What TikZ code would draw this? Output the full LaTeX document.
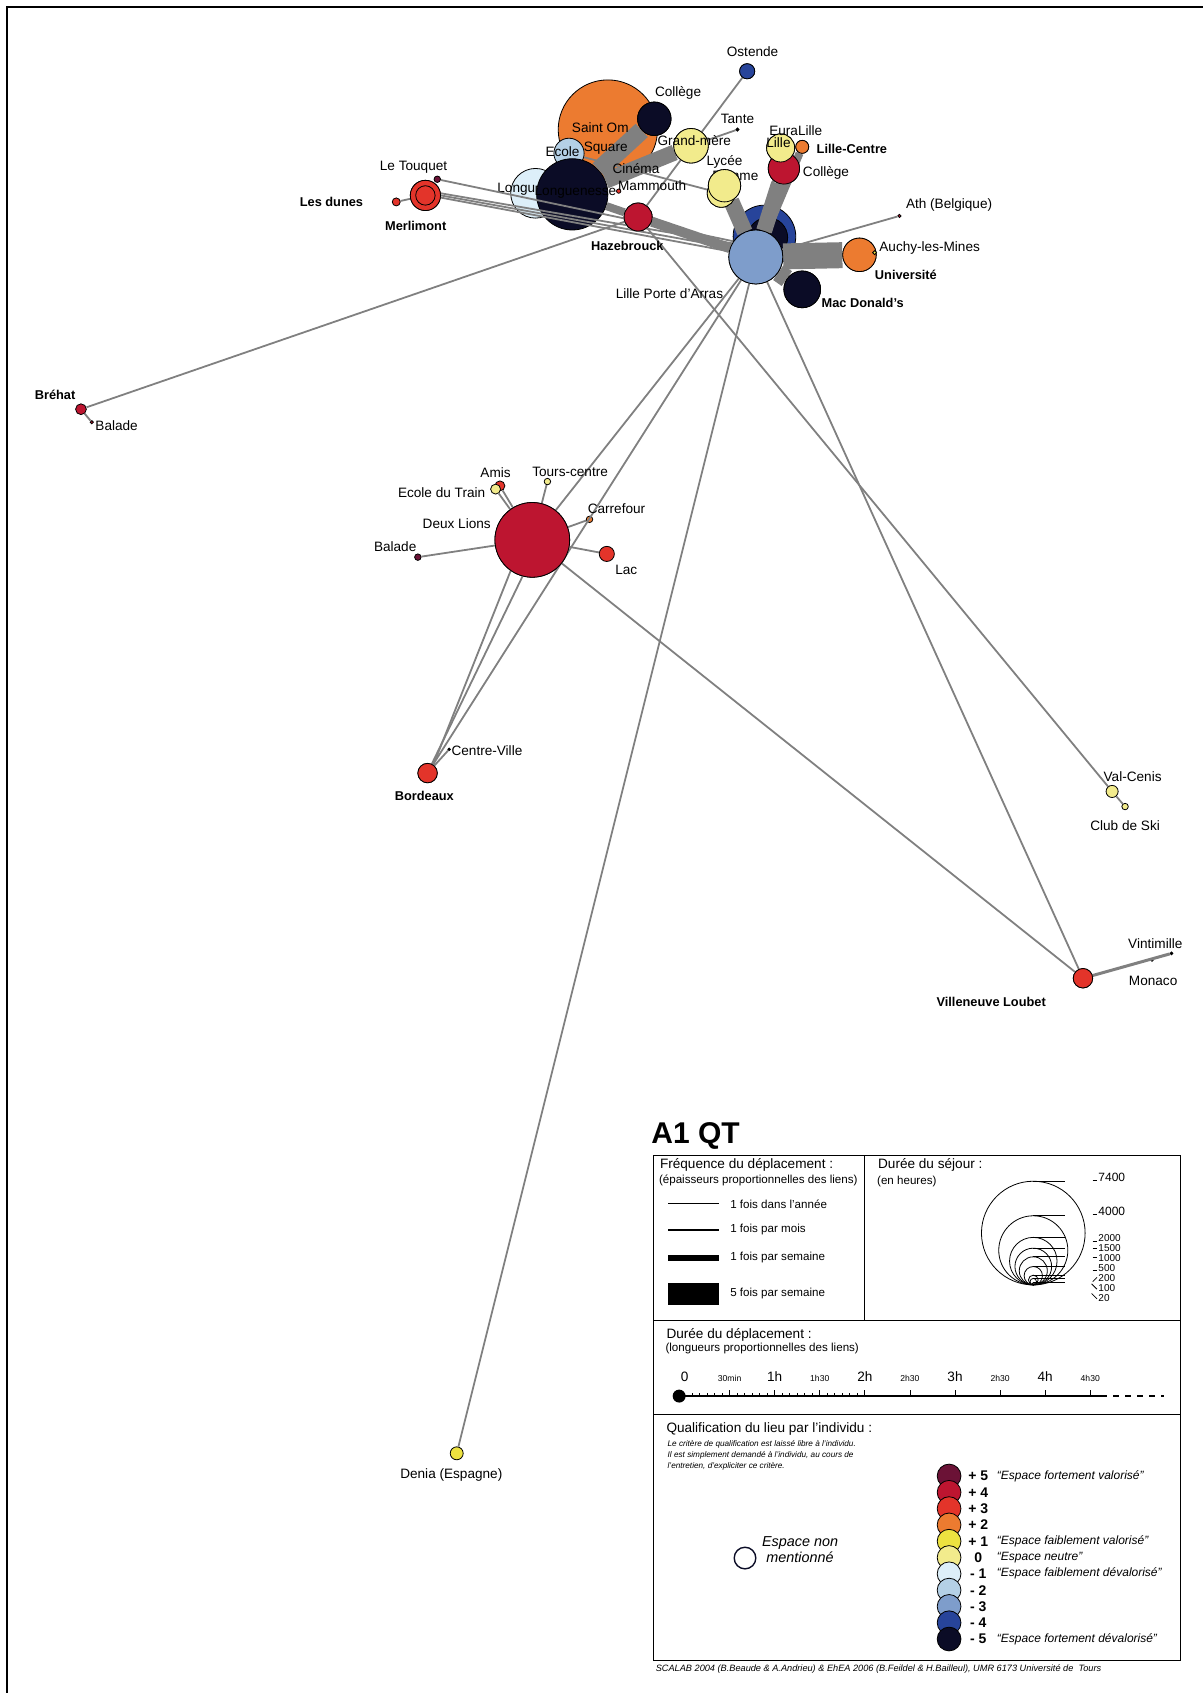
\documentclass[tikz,border=0pt]{standalone}
\usepackage{fontspec}
\setmainfont{Liberation Sans}
\definecolor{qp5}{HTML}{6B1236}
\definecolor{qp4}{HTML}{BD1530}
\definecolor{qp3}{HTML}{E3342A}
\definecolor{qp2}{HTML}{EC7B30}
\definecolor{qp1}{HTML}{EDE240}
\definecolor{qz}{HTML}{F2EB8C}
\definecolor{qm1}{HTML}{DDEFF9}
\definecolor{qm2}{HTML}{B4D0E6}
\definecolor{qm3}{HTML}{7E9DCB}
\definecolor{qm4}{HTML}{27449A}
\definecolor{qm5}{HTML}{0B0C26}
\definecolor{linkgray}{HTML}{808080}
\begin{document}
\begin{tikzpicture}[x=0.54pt, y=-0.54pt,
  spot/.style={circle, draw=black, line width=0.4pt, inner sep=0pt, minimum size=#1*1.08pt},
  link/.style={draw=linkgray, line width=0.9pt},
  band/.style={draw=linkgray, line width=#1},
  lbl/.style={font=\fontsize{6.8}{8}\selectfont, inner sep=0.5pt},
  blbl/.style={font=\fontsize{6.4}{8}\selectfont\bfseries, inner sep=0.5pt},
  leg/.style={font=\fontsize{5.8}{7}\selectfont, inner sep=0pt, anchor=west}]
\useasboundingbox (0,0) rectangle (1114,1568);
\draw[line width=1.2pt] (1114,6.5) -- (6.5,6.5) -- (6.5,1568);
% lieux du fond
\node[spot=46, fill=qp2] (stomer) at (563,120){};
\node[spot=14, fill=qm2] (ecole) at (527,142){};
\node[spot=23, fill=qm1] (longu) at (496,179){};
\node[lbl, anchor=east] (tlongu) at (497,175){Longu};
\node[spot=33, fill=qm5] (lgn) at (530,180){};
\node[spot=29, fill=qm4] (ring4) at (708,219){};
\node[spot=18.5, fill=qm5] (ring5) at (711,220){};
% liens
\node[spot=15.5, fill=qp2] (univ) at (796,236){};
\node[spot=25, fill=qm3] (hub) at (700,238){};
\node[spot=13, fill=qp4] (hazeb) at (591,201){};
\node[spot=15, fill=qz] (lycee) at (671,172){};
\node[spot=14.5, fill=qp4] (colred) at (726,156){};
\node[spot=6, fill=qp2] (lcentre) at (743,136){};
\node[spot=13, fill=qz] (lille) at (723,137){};
\node[spot=15.5, fill=qm5] (college) at (606,110){};
\node[spot=16, fill=qz] (grandm) at (640,135){};
\node[spot=17, fill=qm5] (macdo) at (743,268){};
\draw[band=9pt] (lgn) -- (college);
\draw[band=8pt] (lgn) -- (grandm);
\draw[band=4pt] (lgn) -- (hazeb);
\draw[band=5pt] (hazeb) -- (hub);
\draw[band=8pt] (lycee) -- (hub);
\draw[band=8pt] (colred) -- (hub);
\draw[band=4pt] (lcentre) -- (hub);
\draw[band=13pt] (hub) -- (univ);
\draw[band=9pt] (hub) -- (macdo);
\node[spot=7, fill=qm4] (ostende) at (692,66){};
\node[spot=1.5, fill=black] (tante) at (683,120){};
\node[spot=1.5, fill=qp4] (ath) at (833,200){};
\node[spot=13, fill=qz] (femme) at (668,179){};
\node[spot=14, fill=qp3] (merl) at (394,181){};
\node[spot=3, fill=qp5] (touquet) at (405,166){};
\node[spot=3.7, fill=qp3] (dunes) at (367,187){};
\node[spot=5, fill=qp4] (brehat) at (75,379){};
\node[spot=1.5, fill=qp4] (balade1) at (85,391){};
\node[spot=34.6, fill=qp4] (deux) at (493,500){};
\node[spot=4.6, fill=qp3] (amis) at (463,450){};
\node[spot=4.6, fill=qz] (etrain) at (459,453){};
\node[spot=3, fill=qz] (tours) at (507,446){};
\node[spot=3, fill=qp2] (carref) at (546,481){};
\node[spot=7, fill=qp3] (lac) at (562,513){};
\node[spot=3, fill=qp5] (balade2) at (387,516){};
\node[spot=9, fill=qp3] (bordeaux) at (396,716){};
\node[spot=1.2, fill=black] (cville) at (416,694){};
\node[spot=5.6, fill=qz] (valcenis) at (1030,733){};
\node[spot=3, fill=qz] (clubski) at (1042,747){};
\node[spot=9, fill=qp3] (villen) at (1003,906){};
\node[spot=1.3, fill=black] (monaco) at (1067,889){};
\node[spot=1.3, fill=black] (vinti) at (1085,883){};
\node[spot=6, fill=qp1] (denia) at (423,1346){};
\draw[link] (ostende) -- (hazeb);
\draw[link] (grandm) -- (tante);
\draw[link] (hub) -- (ath);
\draw[link] (lille) -- (hub);
\draw[link] (ecole) -- (femme);
\draw[link] (touquet) -- (hub.145);
\draw[link] (merl.8) -- (hub.150);
\draw[link] (merl.0) -- (hub.160);
\draw[link] (merl.-8) -- (hub.168);
\draw[link] (dunes) -- (merl);
\draw[link] (brehat) -- (hazeb);
\draw[link] (brehat) -- (balade1);
\draw[link] (hazeb) -- (valcenis);
\draw[link] (valcenis) -- (clubski);
\draw[link] (hub) -- (deux);
\draw[link] (hub) -- (bordeaux);
\draw[link] (hub) -- (denia);
\draw[link] (hub) -- (villen);
\draw[link] (deux) -- (villen);
\draw[link] (deux.255) -- (bordeaux.65);
\draw[link] (deux.235) -- (bordeaux.55);
\draw[link] (bordeaux) -- (cville);
\draw[link] (deux) -- (amis);
\draw[link] (deux) -- (etrain);
\draw[link] (deux) -- (tours);
\draw[link] (deux) -- (carref);
\draw[link] (deux) -- (lac);
\draw[link] (deux) -- (balade2);
\draw[link, line width=1.5pt] (villen) -- (vinti);
% lieux du dessus
\node[lbl] (tfemme) at (681,163){Femme};
\node[spot=13, fill=qz] at (femme){};
\node[spot=15, fill=qz] at (lycee){};
\node[spot=14.5, fill=qp4] at (colred){};
\node[spot=13, fill=qz] at (lille){};
\node[spot=6, fill=qp2] at (lcentre){};
\node[spot=15.5, fill=qm5] at (college){};
\node[spot=16, fill=qz] at (grandm){};
\node[spot=2, fill=qp3] (mammouth) at (573,177){};
\node[spot=13, fill=qp4] at (hazeb){};
\node[spot=25, fill=qm3] at (hub){};
\node[spot=15.5, fill=qp2] at (univ){};
\node[spot=1.8, fill=qp1] (univdot) at (810,234){};
\node[spot=17, fill=qm5] at (macdo){};
\node[spot=14, fill=qp3] at (merl){};
\node[spot=9, fill=qp3] (merlin) at (394,181){};
\node[spot=7, fill=qm4] at (ostende){};
\node[spot=34.6, fill=qp4] at (deux){};
\node[spot=9, fill=qp3] at (bordeaux){};
\node[spot=9, fill=qp3] at (villen){};
% noms des lieux
\node[lbl] (tostende) at (697,48){Ostende};
\node[lbl] (tcollege) at (628,86){Collège};
\node[lbl] (ttante) at (683,110){Tante};
\node[lbl] (teura) at (737,121){EuraLille};
\node[lbl] (tstomer) at (556,118){Saint Om};
\node[lbl] (tgrandm) at (643,130){Grand-mère};
\node[lbl] (tlille) at (721,132){Lille};
\node[blbl] (tlcentre) at (789,138){Lille-Centre};
\node[lbl] (tecole) at (521,140){Ecole};
\node[lbl] (tsquare) at (561,137){Square};
\node[lbl] (tlycee) at (671,150){Lycée};
\node[lbl] (ttouquet) at (383,155){Le Touquet};
\node[lbl] (tcolred) at (765,160){Collège};
\node[lbl] (tcinema) at (589,156){Cinéma};
\node[lbl] (tmammouth) at (604,172){Mammouth};
\node[lbl] (tlgn) at (533,178){Longuenesse};
\node[blbl] (tdunes) at (307,187){Les dunes};
\node[lbl] (tath) at (879,190){Ath (Belgique)};
\node[blbl] (tmerl) at (385,209){Merlimont};
\node[blbl] (thazeb) at (581,228){Hazebrouck};
\node[lbl] (tauchy) at (861,230){Auchy-les-Mines};
\node[blbl] (tuniv) at (839,255){Université};
\node[lbl] (thub) at (620,272){Lille Porte d'Arras};
\node[blbl] (tmacdo) at (799,281){Mac Donald's};
\node[blbl] (tbrehat) at (51,366){Bréhat};
\node[lbl] (tbalade1) at (108,394){Balade};
\node[lbl] (tamis) at (459,438){Amis};
\node[lbl] (ttours) at (528,437){Tours-centre};
\node[lbl] (tetrain) at (409,456){Ecole du Train};
\node[lbl] (tcarref) at (571,471){Carrefour};
\node[lbl] (tdeux) at (423,485){Deux Lions};
\node[lbl] (tbalade2) at (366,506){Balade};
\node[lbl] (tlac) at (580,528){Lac};
\node[lbl] (tcville) at (451,695){Centre-Ville};
\node[blbl] (tbordeaux) at (393,737){Bordeaux};
\node[lbl] (tvalcenis) at (1049,719){Val-Cenis};
\node[lbl] (tclubski) at (1042,765){Club de Ski};
\node[lbl] (tvinti) at (1070,874){Vintimille};
\node[lbl] (tmonaco) at (1068,908){Monaco};
\node[blbl] (tvillen) at (918,928){Villeneuve Loubet};
\node[lbl] (tdenia) at (418,1366){Denia (Espagne)};
% legende
\node[font=\fontsize{15}{16}\selectfont\bfseries, anchor=west, inner sep=0pt] (titre) at (603,1052){A1 QT};
\draw[line width=0.6pt] (605,1070) rectangle (1093,1538);
\draw[line width=0.6pt] (801,1070) -- (801,1223);
\draw[line width=0.6pt] (605,1223) -- (1093,1223);
\draw[line width=0.6pt] (605,1310) -- (1093,1310);
\node[lbl, anchor=west] (tfreq) at (610,1079){Fréquence du déplacement :};
\node[leg] (tfreq2) at (610,1093){(épaisseurs proportionnelles des liens)};
\draw[line width=0.5pt] (619,1115) -- (666,1115);
\draw[line width=1pt] (619,1139) -- (666,1139);
\draw[line width=3.2pt] (619,1165) -- (666,1165);
\fill (619,1188) rectangle (666,1209);
\node[leg] (tf1) at (676,1115){1 fois dans l'année};
\node[leg] (tf2) at (676,1139){1 fois par mois};
\node[leg] (tf3) at (676,1165){1 fois par semaine};
\node[leg] (tf4) at (676,1198){5 fois par semaine};
\node[lbl, anchor=west] (tsejour) at (812,1079){Durée du séjour :};
\node[leg] (tsejour2) at (812,1094){(en heures)};
\foreach \r in {48,32,22,17,13,8.5,4.5,3,1} {
  \draw[line width=0.4pt] (957,1190-\r) circle[radius=\r];
  \draw[line width=0.4pt] (957,1190-2*\r) -- (986,1190-2*\r);
}
\foreach \v/\y/\s in {7400/1090/6,4000/1122/6,2000/1147/5,1500/1156/5,1000/1165/5,500/1174/5,200/1184/5,100/1193/5,20/1202/5}
  \node[font=\fontsize{\s}{\s}\selectfont, anchor=west, inner sep=0pt] at (1017,\y){\v};
\foreach \y in {1090,1122,1147,1174}
  \draw[line width=0.4pt] (1012,\y+3) -- (1016,\y+3);
\foreach \y in {1156,1165}
  \draw[line width=0.4pt] (1012,\y) -- (1016,\y);
\draw[line width=0.4pt] (1012,1187) -- (1016,1183);
\draw[line width=0.4pt] (1011,1189) -- (1016,1194);
\draw[line width=0.4pt] (1011,1198) -- (1016,1203);
\node[lbl, anchor=west] (tdepl) at (616,1236){Durée du déplacement :};
\node[leg] (tdepl2) at (616,1249){(longueurs proportionnelles des liens)};
\fill (629,1293) circle[radius=6];
\draw[line width=0.6pt] (629,1293) -- (1020,1293);
\draw[line width=0.6pt, dashed] (1020,1293) -- (1078,1293);
\foreach \m in {1,...,24} {
  \pgfmathsetmacro\tx{634+\m*83.5/12}
  \pgfmathsetmacro\th{ifthenelse(mod(\m,6)==0,6,3)}
  \draw[line width=0.4pt] (\tx,1293) -- (\tx,1293-\th);
}
\foreach \h in {2.5,3,...,4.5}
  \draw[line width=0.4pt] (634+83.5*\h,1293) -- (634+83.5*\h,1287);
\foreach \t/\h in {0/0,1h/1,2h/2,3h/3,4h/4}
  \node[lbl] at (634+83.5*\h,1275){\t};
\foreach \t/\h in {30min/0.5,1h30/1.5,2h30/2.5,2h30/3.5,4h30/4.5}
  \node[font=\fontsize{4.3}{5}\selectfont, inner sep=0pt] at (634+83.5*\h,1277){\t};
\node[lbl, anchor=west] (tqual) at (616,1323){Qualification du lieu par l’individu :};
\node[font=\fontsize{4.1}{5.4}\selectfont\itshape, anchor=north west, align=left, inner sep=0pt] (tcrit) at (618,1334){Le critère de qualification est laissé libre à l’individu.\\Il est simplement demandé à l’individu, au cours de\\l’entretien, d’expliciter ce critère.};
\foreach \c/\v/\t [count=\i from 0] in {qp5/+ 5/“Espace fortement valorisé”, qp4/+ 4/, qp3/+ 3/, qp2/+ 2/, qp1/+ 1/“Espace faiblement valorisé”, qz/0/“Espace neutre”, qm1/- 1/“Espace faiblement dévalorisé”, qm2/- 2/, qm3/- 3/, qm4/- 4/, qm5/- 5/“Espace fortement dévalorisé”} {
  \node[spot=11, fill=\c] (qual\i) at (879,1367+15.1*\i){};
  \node[font=\fontsize{7}{8}\selectfont\bfseries, inner sep=0pt] at (906,1367+15.1*\i){\v};
  \node[font=\fontsize{6}{7}\selectfont\itshape, anchor=west, inner sep=0pt] at (923,1367+15.1*\i){\t};
}
\node[spot=10, draw=qm5, line width=0.7pt] (nonm) at (690,1443){};
\node[font=\fontsize{7.2}{8.2}\selectfont\itshape, align=center, inner sep=0pt] (tnonm) at (741,1435){Espace non\\mentionné};
\node[font=\fontsize{4.6}{5}\selectfont\itshape, anchor=west, inner sep=0pt] (tcredit) at (607,1546){SCALAB 2004 (B.Beaude \& A.Andrieu) \& EhEA 2006 (B.Feildel \& H.Bailleul), UMR 6173 Université de\ \ Tours};
\end{tikzpicture}
\end{document}
